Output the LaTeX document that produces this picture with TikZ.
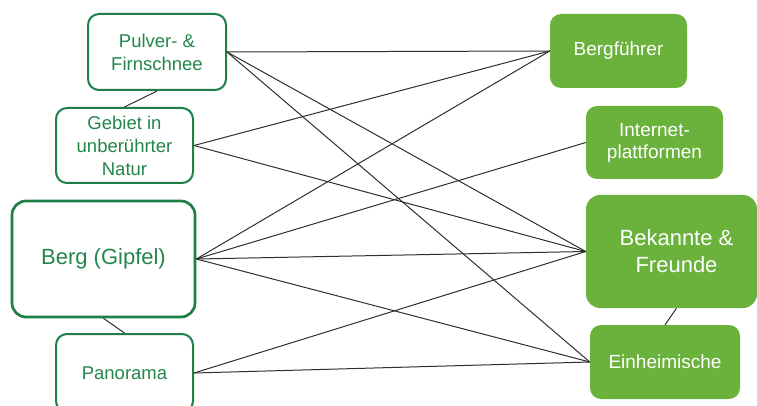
\documentclass[tikz,border=0pt]{standalone}
\usepackage{fontspec}
\setmainfont{Liberation Sans}
\definecolor{outlinegreen}{HTML}{1E8048}
\definecolor{textgreen}{HTML}{23864B}
\definecolor{fillgreen}{HTML}{6BB23D}
\definecolor{linkgray}{HTML}{2E2E2E}
\begin{document}
\begin{tikzpicture}[x=1pt,y=-1pt,
  attr/.style={draw=outlinegreen, line width=2pt, rounded corners=11pt,
    fill=white, text=textgreen, align=center, inner sep=0pt,
    font=\fontsize{18.5}{23}\selectfont},
  bigattr/.style={attr, line width=2.7pt, rounded corners=14pt,
    font=\fontsize{22}{27}\selectfont},
  source/.style={fill=fillgreen, rounded corners=11pt, text=white,
    align=center, inner sep=0pt, font=\fontsize{19}{22}\selectfont},
  bigsource/.style={source, rounded corners=14pt,
    font=\fontsize{22}{27}\selectfont},
  link/.style={draw=linkgray, line width=1pt}]
\useasboundingbox (0,0) rectangle (757,406);
\clip (0,0) rectangle (757,406);

% left column: features
\node[attr, minimum width=138pt, minimum height=76pt] (pulver) at (157,52) {Pulver- \&\\Firnschnee};
\node[attr, minimum width=137pt, minimum height=75pt] (gebiet) at (124.5,145.5) {Gebiet in\\unberührter\\Natur};
\node[bigattr, minimum width=183pt, minimum height=116pt] (berg) at (103.5,259) {Berg (Gipfel)};
\node[attr, minimum width=137pt, minimum height=78pt] (panorama) at (124.5,373) {Panorama};

% right column: information sources
\node[source, minimum width=137pt, minimum height=74pt] (fuehrer) at (618.5,51) {Bergführer};
\node[source, minimum width=137pt, minimum height=73pt] (internet) at (654.5,142.5) {Internet-\\plattformen};
\node[bigsource, minimum width=171pt, minimum height=113pt] (freunde) at (671.5,251.5) {\hspace*{10pt}Bekannte \&\\\hspace*{10pt}Freunde};
\node[source, minimum width=150pt, minimum height=74pt] (einheimische) at (665,362) {Einheimische};

% links within each column
\draw[link] (pulver.south) -- (gebiet.north);
\draw[link] (berg.south) -- (panorama.north);
\draw[link] ([xshift=5pt]freunde.south) -- (einheimische.north);

% links between the columns
\draw[link] (pulver.east) -- (fuehrer.west);
\draw[link] (pulver.east) -- (freunde.west);
\draw[link] (pulver.east) -- (einheimische.west);
\draw[link] (gebiet.east) -- (fuehrer.west);
\draw[link] (gebiet.east) -- (freunde.west);
\draw[link] (berg.east) -- (fuehrer.west);
\draw[link] (berg.east) -- (internet.west);
\draw[link] (berg.east) -- (freunde.west);
\draw[link] (berg.east) -- (einheimische.west);
\draw[link] (panorama.east) -- (freunde.west);
\draw[link] (panorama.east) -- (einheimische.west);
\end{tikzpicture}
\end{document}
